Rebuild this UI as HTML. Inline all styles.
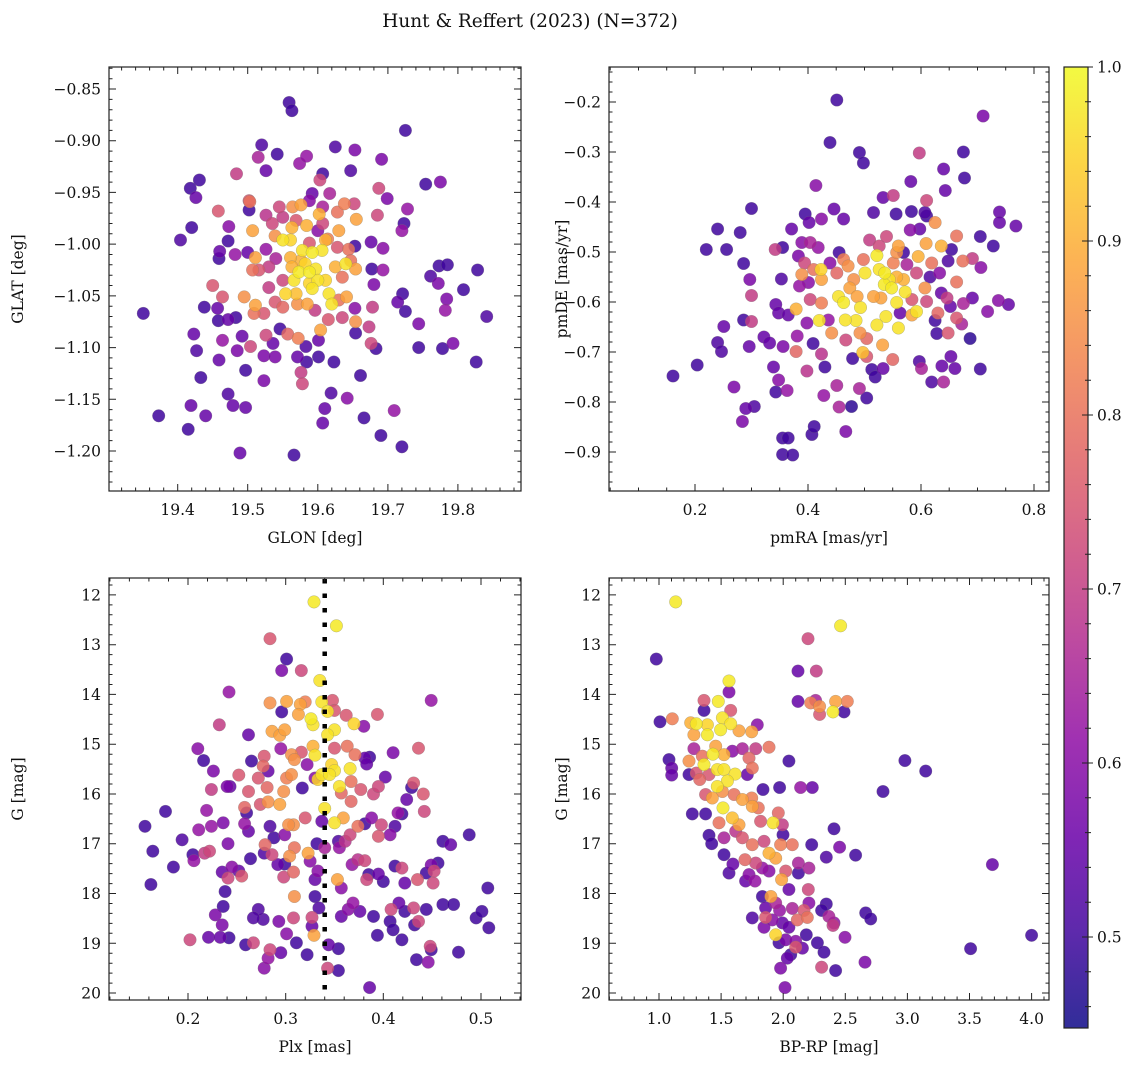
<!DOCTYPE html>
<html><head><meta charset="utf-8"><style>
html,body{margin:0;padding:0;background:#fff;}
svg{display:block;font-family:"DejaVu Serif","Liberation Serif",serif;}
</style></head><body>
<svg id="fig" xmlns="http://www.w3.org/2000/svg" width="1136" height="1067" viewBox="0 0 1136 1067">
<rect width="1136" height="1067" fill="#fff"/>
<text x="530" y="27" font-size="18.5" text-anchor="middle" fill="#111">Hunt &amp; Reffert (2023) (N=372)</text>
</svg>
<script>
// ---------- Panel 1: GLON vs GLAT ----------
const p1Glon=[19.559,19.563,19.725,19.520,19.542,19.625,19.653,19.515,19.574,19.584,19.691,19.484,19.526,19.647,19.431,19.418,19.426,19.754,19.775,19.607,19.603,19.687,19.699,19.458,19.502,19.502,19.728,19.723,19.420,19.404,19.473,19.472,19.720,19.685,19.676,19.693,19.460,19.459,19.482,19.500,19.653,19.773,19.785,19.828,19.761,19.772,19.677,19.693,19.680,19.450,19.464,19.438,19.351,19.457,19.458,19.472,19.483,19.721,19.714,19.725,19.784,19.782,19.808,19.841,19.744,19.546,19.653,19.654,19.673,19.678,19.423,19.427,19.464,19.485,19.492,19.504,19.526,19.536,19.523,19.539,19.571,19.583,19.601,19.601,19.584,19.623,19.676,19.683,19.744,19.778,19.793,19.826,19.459,19.497,19.433,19.523,19.576,19.578,19.661,19.472,19.479,19.497,19.419,19.373,19.415,19.440,19.619,19.610,19.607,19.642,19.666,19.709,19.690,19.720,19.489,19.566,
19.503,19.507,19.539,19.550,19.561,19.563,19.584,19.602,19.576,19.564,19.545,19.630,19.638,19.652,19.655,19.628,19.611,19.607,19.578,19.592,19.606,19.576,19.582,19.561,19.563,19.573,19.588,19.597,19.600,19.611,19.588,19.566,19.554,19.569,19.592,19.616,19.620,19.640,19.625,19.654,19.635,19.644,19.647,19.641,19.630,19.585,19.571,19.550,19.539,19.511,19.507,19.516,19.511,19.495,19.509,19.523,19.557,19.572,19.604,19.615,19.654,19.635,19.596,19.588,19.540,19.550,19.530,19.628,19.569,19.550,19.526,19.535,19.526,19.530,19.607,19.592,19.588,19.614,19.617,19.600];
const p1Glat=[-0.863,-0.871,-0.890,-0.904,-0.913,-0.906,-0.909,-0.916,-0.922,-0.915,-0.918,-0.932,-0.929,-0.929,-0.938,-0.946,-0.955,-0.942,-0.940,-0.932,-0.938,-0.946,-0.956,-0.968,-0.967,-0.958,-0.966,-0.980,-0.984,-0.996,-0.983,-0.997,-0.987,-0.972,-0.998,-1.004,-1.007,-1.014,-1.010,-1.008,-1.002,-1.021,-1.020,-1.025,-1.031,-1.038,-1.024,-1.025,-1.039,-1.040,-1.051,-1.061,-1.067,-1.062,-1.074,-1.073,-1.071,-1.048,-1.056,-1.065,-1.053,-1.064,-1.044,-1.070,-1.077,-1.082,-1.062,-1.086,-1.080,-1.061,-1.087,-1.103,-1.093,-1.103,-1.089,-1.099,-1.088,-1.096,-1.108,-1.109,-1.109,-1.099,-1.093,-1.109,-1.114,-1.114,-1.096,-1.101,-1.100,-1.101,-1.096,-1.114,-1.112,-1.122,-1.129,-1.132,-1.124,-1.135,-1.127,-1.145,-1.156,-1.158,-1.156,-1.166,-1.179,-1.166,-1.144,-1.159,-1.173,-1.149,-1.168,-1.161,-1.185,-1.196,-1.202,-1.204,
-0.959,-0.987,-0.992,-0.996,-0.996,-0.984,-0.982,-0.971,-0.962,-0.964,-0.964,-0.987,-0.961,-0.961,-0.976,-0.969,-0.996,-0.980,-1.006,-1.008,-1.006,-1.016,-1.019,-1.013,-1.022,-1.027,-1.027,-1.024,-1.035,-1.035,-1.038,-1.035,-1.048,-1.048,-1.043,-1.048,-1.058,-1.019,-1.022,-1.024,-1.032,-1.005,-1.016,-1.051,-1.054,-1.058,-1.058,-1.061,-1.056,-1.013,-1.025,-1.025,-1.059,-1.051,-1.067,-1.067,-1.087,-1.091,-1.083,-1.073,-1.075,-1.071,-1.064,-0.999,-1.014,-1.035,-1.042,-1.003,-0.977,-0.974,-0.972,-0.980,-1.005,-1.022,-0.964,-0.951,-0.958,-0.995,-0.951,-0.987];
const p1Prob=[.5,.5,.5,.52,.5,.52,.58,.65,.62,.62,.58,.7,.55,.52,.5,.5,.55,.5,.58,.5,.72,.72,.58,.75,.5,.75,.62,.5,.5,.52,.6,.5,.62,.72,.55,.6,.55,.5,.62,.55,.5,.5,.5,.5,.52,.58,.5,.62,.58,.75,.75,.5,.5,.55,.5,.55,.5,.5,.55,.5,.58,.62,.5,.52,.58,.5,.6,.5,.7,.7,.55,.52,.62,.58,.55,.72,.72,.55,.58,.58,.55,.52,.55,.5,.5,.5,.72,.5,.5,.5,.58,.5,.55,.5,.5,.58,.7,.72,.5,.52,.55,.55,.55,.5,.5,.55,.52,.55,.55,.6,.5,.62,.5,.5,.55,.5,
.8,.88,.85,.97,.95,.9,.9,.9,.88,.85,.72,.88,.82,.72,.88,.8,.9,.72,.97,.98,.97,.9,.95,.9,.9,.98,.98,.97,.97,.95,.95,.97,.95,.92,.97,.97,.97,.97,.9,.88,.8,.8,.8,.88,.8,.88,.85,.78,.75,.88,.8,.75,.88,.85,.8,.75,.78,.82,.88,.75,.85,.72,.7,.75,.65,.72,.7,.75,.75,.7,.68,.72,.62,.7,.65,.55,.6,.82,.65,.6];
const p1XTicks=[19.4,19.5,19.6,19.7,19.8];
const p1YTicks=[-0.85,-0.90,-0.95,-1.00,-1.05,-1.10,-1.15,-1.20];

// ---------- Panel 2: pmRA vs pmDE ----------
const p2Pmra=[0.451,0.710,0.439,0.491,0.498,0.597,0.675,0.677,0.640,0.643,0.582,0.414,0.533,0.551,0.610,0.300,0.395,0.402,0.424,0.446,0.463,0.516,0.556,0.583,0.610,0.739,0.739,0.768,0.728,0.705,0.240,0.280,0.220,0.256,0.371,0.342,0.355,0.286,0.297,0.300,0.353,0.343,0.348,0.365,0.300,0.286,0.251,0.240,0.247,0.296,0.322,0.332,0.204,0.161,0.269,0.339,0.348,0.343,0.363,0.290,0.305,0.284,0.355,0.365,0.355,0.373,0.407,0.411,0.467,0.477,0.455,0.428,0.451,0.491,0.504,0.513,0.519,0.533,0.398,0.430,0.424,0.479,0.497,0.550,0.597,0.601,0.619,0.640,0.637,0.653,0.660,0.705,0.687,0.672,0.718,0.737,0.755,0.691,0.675,0.652,0.636,0.625,0.628,0.648,0.663,0.616,0.648,0.654,0.663,0.674,0.706,0.691,0.636,0.609,0.595,0.625,0.619,0.663,0.607,0.592,0.584,0.569,0.572,0.557,0.560,0.538,0.522,0.535,0.548,0.526,0.536,0.522,0.557,0.560,0.557,0.544,0.501,0.493,0.485,0.466,0.463,0.454,0.474,0.487,0.481,0.471,0.423,0.420,0.424,0.379,0.389,0.410,0.424,0.442,0.492,0.532,0.504,0.529,0.516,0.551,0.463,0.451,0.498,0.394,0.404,0.385,0.383,0.389,0.404,0.418,0.439,0.455,0.509,0.526,0.539,0.569,0.581,0.598,0.607,0.575,0.592,0.584,0.610,0.630,0.646,0.633,0.563,0.436,0.398,0.401,0.409,0.381,0.379,0.356,0.504,0.467];
const p2Pmde=[-0.196,-0.228,-0.281,-0.301,-0.322,-0.302,-0.300,-0.352,-0.334,-0.377,-0.359,-0.367,-0.391,-0.387,-0.397,-0.413,-0.424,-0.441,-0.434,-0.414,-0.434,-0.421,-0.424,-0.419,-0.428,-0.420,-0.441,-0.448,-0.488,-0.469,-0.454,-0.461,-0.495,-0.495,-0.454,-0.495,-0.491,-0.523,-0.555,-0.587,-0.554,-0.605,-0.622,-0.626,-0.639,-0.636,-0.649,-0.681,-0.699,-0.689,-0.670,-0.682,-0.726,-0.748,-0.770,-0.730,-0.756,-0.780,-0.777,-0.813,-0.809,-0.839,-0.872,-0.872,-0.905,-0.906,-0.865,-0.849,-0.859,-0.809,-0.810,-0.787,-0.767,-0.773,-0.792,-0.735,-0.750,-0.733,-0.738,-0.730,-0.704,-0.713,-0.701,-0.715,-0.719,-0.733,-0.760,-0.760,-0.728,-0.709,-0.733,-0.734,-0.673,-0.644,-0.619,-0.597,-0.605,-0.592,-0.603,-0.609,-0.582,-0.637,-0.663,-0.662,-0.632,-0.550,-0.518,-0.495,-0.468,-0.518,-0.531,-0.513,-0.488,-0.483,-0.509,-0.441,-0.522,-0.560,-0.572,-0.619,-0.626,-0.555,-0.580,-0.601,-0.652,-0.629,-0.646,-0.565,-0.572,-0.535,-0.542,-0.507,-0.550,-0.488,-0.501,-0.555,-0.542,-0.611,-0.637,-0.636,-0.601,-0.589,-0.572,-0.589,-0.555,-0.528,-0.535,-0.637,-0.555,-0.614,-0.545,-0.535,-0.602,-0.662,-0.662,-0.686,-0.673,-0.592,-0.589,-0.522,-0.515,-0.542,-0.515,-0.522,-0.595,-0.568,-0.508,-0.481,-0.481,-0.491,-0.522,-0.501,-0.476,-0.488,-0.469,-0.501,-0.456,-0.454,-0.421,-0.525,-0.542,-0.595,-0.599,-0.622,-0.592,-0.542,-0.622,-0.636,-0.642,-0.561,-0.683,-0.668,-0.699,-0.689,-0.709,-0.676];
const p2Prob=[.5,.58,.5,.5,.5,.7,.5,.5,.55,.55,.55,.6,.55,.7,.72,.5,.5,.55,.6,.55,.55,.52,.5,.5,.5,.55,.55,.55,.5,.5,.5,.5,.5,.5,.55,.7,.5,.5,.58,.7,.52,.55,.55,.55,.7,.5,.55,.52,.52,.55,.55,.55,.5,.5,.58,.55,.6,.5,.62,.55,.52,.58,.5,.5,.5,.5,.5,.5,.58,.48,.65,.62,.65,.65,.5,.5,.5,.55,.68,.5,.68,.5,.92,.78,.52,.65,.52,.65,.55,.55,.55,.5,.48,.65,.6,.6,.55,.55,.65,.55,.55,.5,.5,.75,.75,.52,.52,.5,.8,.8,.6,.7,.9,.88,.9,.85,.8,.8,.85,.97,.88,.9,.97,.97,.97,.97,.97,.98,.98,.97,.98,.98,.9,.88,.85,.97,.97,.97,.97,.97,.98,.97,.88,.88,.85,.85,.95,.97,.88,.9,.85,.8,.82,.85,.85,.88,.78,.88,.88,.82,.82,.78,.8,.72,.72,.62,.58,.6,.65,.62,.6,.5,.7,.72,.72,.5,.6,.55,.52,.65,.72,.75,.72,.78,.7,.6,.55,.62,.6,.6,.5,.62,.78,.58,.75,.72];
const p2XTicks=[0.2,0.4,0.6,0.8];
const p2YTicks=[-0.2,-0.3,-0.4,-0.5,-0.6,-0.7,-0.8,-0.9];

// ---------- Panel 3: Plx vs G ----------
const p3Plx=[0.329,0.352,0.284,0.301,0.296,0.316,0.335,0.242,0.449,0.284,0.301,0.315,0.320,0.337,0.348,0.296,0.313,0.326,0.328,0.343,0.350,0.362,0.394,0.370,0.380,0.350,0.232,0.262,0.286,0.294,0.299,0.343,0.210,0.216,0.226,0.224,0.240,0.243,0.252,0.265,0.262,0.272,0.278,0.277,0.282,0.281,0.295,0.306,0.309,0.316,0.306,0.301,0.298,0.294,0.282,0.274,0.258,0.260,0.322,0.317,0.330,0.328,0.337,0.333,0.330,0.347,0.350,0.345,0.355,0.366,0.363,0.371,0.350,0.340,0.350,0.359,0.367,0.367,0.357,0.377,0.381,0.386,0.383,0.390,0.395,0.402,0.410,0.431,0.429,0.441,0.442,0.436,0.424,0.415,0.419,0.412,0.407,0.395,0.398,0.388,0.381,0.374,0.366,0.361,0.354,0.355,0.332,0.340,0.337,0.320,0.308,0.303,0.299,0.309,0.304,0.288,0.284,0.279,0.278,0.286,0.292,0.299,0.298,0.308,0.323,0.325,0.333,0.330,0.353,0.357,0.368,0.374,0.381,0.385,0.395,0.400,0.383,0.412,0.419,0.422,0.435,0.444,0.449,0.452,0.456,0.451,0.461,0.469,0.488,0.507,0.277,0.272,0.267,0.293,0.301,0.311,0.308,0.309,0.327,0.330,0.327,0.329,0.334,0.344,0.354,0.343,0.354,0.386,0.357,0.364,0.369,0.376,0.390,0.394,0.407,0.410,0.408,0.416,0.422,0.431,0.436,0.444,0.432,0.419,0.434,0.446,0.448,0.449,0.461,0.472,0.477,0.495,0.501,0.508,0.228,0.235,0.236,0.238,0.221,0.233,0.242,0.202,0.259,0.267,0.284,0.295,0.282,0.278,0.322,0.156,0.177,0.164,0.162,0.185,0.194,0.205,0.206,0.211,0.219,0.224,0.217,0.222,0.236,0.241,0.235,0.245,0.252,0.241,0.255,0.264,0.258,0.262];
const p3G=[12.14,12.62,12.88,13.29,13.52,13.52,13.72,13.95,14.12,14.17,14.14,14.20,14.15,14.15,14.12,14.35,14.40,14.49,14.61,14.34,14.32,14.42,14.40,14.59,14.64,14.71,14.61,14.81,14.74,14.82,14.71,14.81,15.09,15.33,15.54,15.91,15.85,15.85,15.62,15.34,15.95,15.68,15.24,15.44,15.54,15.87,15.09,15.21,15.31,15.16,15.61,15.68,15.95,16.21,16.16,16.21,16.27,16.38,15.41,15.88,15.22,15.04,15.61,15.71,15.68,15.41,15.53,15.61,15.85,15.49,15.04,15.21,15.08,16.29,16.58,16.48,16.15,15.75,15.98,15.91,15.28,15.26,15.40,16.00,15.85,15.66,15.17,15.78,15.87,16.00,16.35,15.08,16.11,16.38,16.40,16.65,16.82,16.85,16.62,16.48,16.60,16.65,16.82,16.95,16.95,17.08,17.00,17.08,16.55,16.48,16.62,16.62,16.82,17.08,17.25,16.88,16.65,17.02,17.19,17.22,17.42,17.41,17.67,17.57,17.19,17.35,17.55,17.72,17.72,17.89,17.42,17.32,17.34,17.62,17.61,17.76,17.72,17.45,17.49,17.79,17.72,17.59,17.43,17.55,17.39,17.79,16.95,17.02,16.82,17.89,18.52,18.32,18.49,18.56,18.81,18.99,18.49,18.06,18.48,18.06,18.66,18.84,18.29,19.03,19.11,19.50,19.55,19.89,18.46,18.32,18.19,18.36,18.46,18.84,18.56,18.73,18.32,18.19,18.36,18.29,18.56,18.32,18.63,18.93,19.33,19.38,19.06,19.13,18.22,18.22,19.18,18.49,18.36,18.69,18.43,18.63,18.26,17.96,18.88,18.88,18.89,18.93,19.03,18.99,19.13,19.19,19.30,19.50,19.23,16.65,16.35,17.15,17.82,17.47,16.92,17.22,17.34,16.72,16.33,16.65,17.19,17.15,16.58,17.00,17.57,17.47,17.55,17.69,17.65,17.30,16.60,16.75];
const p3Prob=[.98,.98,.75,.5,.58,.72,.97,.62,.62,.85,.88,.88,.82,.97,.75,.5,.88,.98,.97,.97,.75,.75,.75,.95,.6,.97,.7,.55,.88,.88,.88,.97,.6,.5,.58,.7,.58,.55,.75,.5,.75,.75,.75,.78,.55,.78,.62,.85,.85,.75,.85,.82,.85,.88,.85,.75,.78,.5,.6,.5,.97,.9,.97,.95,.6,.95,.97,.97,.97,.97,.8,.8,.75,.97,.97,.88,.78,.8,.78,.75,.55,.5,.55,.72,.72,.55,.58,.75,.5,.75,.72,.75,.55,.62,.5,.52,.6,.75,.72,.6,.5,.8,.72,.68,.52,.62,.5,.65,.55,.75,.85,.85,.6,.8,.85,.5,.52,.78,.52,.72,.55,.5,.72,.78,.88,.6,.6,.55,.88,.6,.62,.68,.72,.5,.55,.5,.72,.5,.72,.55,.75,.5,.58,.72,.5,.72,.5,.55,.5,.5,.52,.52,.52,.58,.6,.5,.72,.85,.72,.5,.55,.88,.52,.55,.5,.72,.5,.55,.55,.6,.62,.55,.5,.5,.5,.5,.72,.55,.5,.72,.72,.5,.5,.5,.5,.6,.72,.5,.5,.5,.5,.5,.5,.5,.58,.58,.5,.5,.55,.55,.5,.72,.5,.72,.72,.55,.62,.6,.5,.5,.5,.5,.5,.5,.52,.5,.62,.62,.62,.62,.7,.72,.58,.58,.55,.6,.55,.72,.75,.5,.62,.55,.6,.72,.62,.58];
const p3XTicks=[0.2,0.3,0.4,0.5];
const p3YTicks=[12,13,14,15,16,17,18,19,20];
const p3PlxRef=[0.34];

// ---------- Panel 4: BP-RP vs G ----------
const p4Color=[1.134,2.462,2.199,0.978,2.119,2.266,1.563,1.563,1.362,1.362,1.477,1.577,2.119,2.261,2.221,2.293,2.293,2.422,2.516,2.401,2.489,1.008,1.107,1.255,1.300,1.389,1.510,1.577,1.496,1.791,1.644,1.746,1.281,1.389,1.885,1.281,1.456,1.434,1.523,1.590,1.671,1.778,1.080,1.102,1.102,1.241,1.349,1.362,1.241,1.300,1.469,1.523,1.612,1.550,1.469,1.402,1.327,1.724,1.751,1.711,2.046,2.140,2.234,1.971,1.837,2.980,3.147,2.803,1.375,1.429,1.510,1.604,1.671,1.746,1.751,1.799,1.515,1.590,1.644,1.483,1.268,1.375,1.918,1.960,1.993,1.998,1.818,2.409,1.402,1.424,1.523,1.617,1.671,1.751,1.845,1.885,1.939,1.979,2.073,2.229,2.454,2.347,2.583,3.684,1.523,1.563,1.595,1.692,1.778,1.832,1.724,1.773,1.697,1.885,1.987,2.020,2.122,2.207,2.122,2.046,2.202,1.901,1.832,1.858,1.939,1.971,2.073,2.167,2.207,2.347,2.309,2.368,2.409,2.401,2.664,2.704,1.751,1.858,1.845,1.912,1.993,2.046,2.113,2.194,2.186,1.939,1.966,2.020,2.100,2.154,2.275,2.328,2.060,2.100,2.033,1.979,2.014,2.309,2.422,2.658,2.497,3.509,4.000];
const p4G=[12.14,12.62,12.88,13.29,13.53,13.53,13.73,13.95,14.12,14.32,14.14,14.32,14.14,14.12,14.17,14.24,14.40,14.14,14.14,14.35,14.35,14.55,14.49,14.57,14.59,14.61,14.47,14.59,14.71,14.61,14.73,14.75,14.81,14.81,15.06,15.09,15.04,15.20,15.21,15.14,15.09,15.09,15.31,15.48,15.62,15.34,15.24,15.41,15.61,15.58,15.51,15.51,15.60,15.74,15.85,15.61,15.71,15.28,15.48,15.61,15.34,15.87,15.87,15.87,15.91,15.33,15.54,15.95,16.01,16.08,15.95,16.01,16.11,16.08,16.25,16.28,16.28,16.48,16.62,16.58,16.40,16.40,16.58,16.38,16.62,16.82,16.55,16.70,16.83,17.00,16.88,16.75,16.88,17.02,16.95,17.19,17.29,17.02,17.02,17.02,17.07,17.27,17.23,17.42,17.22,17.59,17.41,17.32,17.39,17.49,17.62,17.75,17.75,17.55,17.72,17.55,17.39,17.49,17.59,17.92,17.92,18.06,18.06,18.29,18.19,18.34,18.30,18.34,18.19,18.21,18.34,18.46,18.59,18.64,18.39,18.51,18.49,18.48,18.68,18.53,18.59,18.68,18.53,18.48,18.83,18.83,18.99,18.93,18.96,19.10,18.99,19.18,19.23,19.08,19.30,19.50,19.89,19.48,19.55,19.38,18.88,19.11,18.84];
const p4Prob=[.98,.98,.72,.5,.55,.7,.98,.58,.75,.5,.98,.75,.55,.65,.82,.85,.75,.88,.82,.98,.5,.5,.82,.9,.98,.95,.97,.97,.98,.6,.88,.88,.88,.98,.8,.65,.88,.98,.9,.6,.65,.7,.5,.55,.55,.85,.8,.98,.5,.75,.97,.97,.97,.97,.97,.75,.78,.78,.8,.55,.5,.62,.55,.5,.5,.5,.5,.5,.75,.88,.85,.8,.88,.82,.88,.8,.98,.92,.88,.8,.5,.5,.97,.78,.7,.5,.75,.5,.5,.5,.65,.68,.75,.8,.72,.9,.88,.82,.8,.5,.58,.52,.5,.55,.5,.52,.55,.78,.72,.62,.6,.62,.55,.6,.88,.75,.65,.65,.5,.55,.72,.88,.5,.55,.65,.62,.65,.75,.6,.5,.5,.65,.62,.7,.5,.5,.52,.75,.58,.6,.55,.55,.78,.8,.5,.95,.5,.58,.6,.55,.5,.5,.5,.75,.55,.58,.58,.72,.5,.58,.6,.5,.5];
const p4XTicks=[1.0,1.5,2.0,2.5,3.0,3.5,4.0];
const p4YTicks=[12,13,14,15,16,17,18,19,20];

// ---------- Colorbar ----------
const cbTicks=[0.5,0.6,0.7,0.8,0.9,1.0];
const cbMin=0.4477, cbMax=1.0;

const NS="http://www.w3.org/2000/svg";
const svg=document.getElementById('fig');
const plasmaStops=["#0d0887","#41049d","#6a00a8","#8f0da4","#b12a90","#cc4778","#e16462","#f2844b","#fca636","#fcce25","#f0f921"];
function hex2rgb(h){return [parseInt(h.substr(1,2),16),parseInt(h.substr(3,2),16),parseInt(h.substr(5,2),16)];}
function plasma(t){if(!isFinite(t))t=0;t=Math.max(0,Math.min(1,t));const s=t*10;const i=Math.min(9,Math.floor(s));const f=s-i;const a=hex2rgb(plasmaStops[i]),b=hex2rgb(plasmaStops[i+1]);return 'rgb('+a.map((v,k)=>Math.round(v+(b[k]-v)*f)).join(',')+')';}
function el(tag,parent){const e=document.createElementNS(NS,tag);parent.appendChild(e);return e;}
function fmt(v,d){const s=Math.abs(v).toFixed(d);return (v<-1e-9?'\u2212':'')+s;}

function drawPanel(c){
  const g=el('g',svg);
  
  
  const sx=v=>c.x0+(v-c.xmin)/(c.xmax-c.xmin)*(c.x1-c.x0);
  const sy=v=>c.y0+(v-c.yTop)/(c.yBot-c.yTop)*(c.y1-c.y0);
  const n=Math.min(c.px.length,c.py.length,c.pc.length);
  const idx=[];for(let i=0;i<n;i++)idx.push(i);
  idx.sort((a,b)=>c.pc[a]-c.pc[b]);
  const pg=el('g',g);
  
  
  idx.forEach(i=>{
    const p=el('circle',pg);
    
    
    p.setAttribute('cx',sx(c.px[i]).toFixed(1));
    p.setAttribute('cy',sy(c.py[i]).toFixed(1));
    p.setAttribute('r','6.3');
    p.setAttribute('fill',plasma((c.pc[i]-cbMin)/(cbMax-cbMin)));
    p.setAttribute('fill-opacity','0.85');
    p.setAttribute('stroke','#777');
    p.setAttribute('stroke-opacity','0.5');
    p.setAttribute('stroke-width','0.5');
  });
  if(c.vline){
    c.vline.forEach(v=>{
      const l=el('line',g);
      
      
      l.setAttribute('x1',sx(v));l.setAttribute('x2',sx(v));
      l.setAttribute('y1',c.y0+1);l.setAttribute('y2',c.y1);
      l.setAttribute('stroke','#000');l.setAttribute('stroke-width','4.5');
      l.setAttribute('stroke-dasharray','4.5 10');
    });
  }
  const fr=el('rect',g);
  
  
  fr.setAttribute('x',c.x0);fr.setAttribute('y',c.y0);
  fr.setAttribute('width',c.x1-c.x0);fr.setAttribute('height',c.y1-c.y0);
  fr.setAttribute('fill','none');fr.setAttribute('stroke','#222');fr.setAttribute('stroke-width','1.2');
  const tk=el('path',g);
  
  
  let d='';
  const isMajor=(v,arr)=>arr.some(m=>Math.abs(m-v)<1e-6);
  for(let k=Math.ceil(c.xmin/c.xminor-1e-9);k*c.xminor<=c.xmax+1e-9;k++){
    const v=k*c.xminor;const X=sx(v).toFixed(1);const L=isMajor(v,c.xt)?7:3.5;
    d+=`M${X},${c.y1}v${-L}M${X},${c.y0}v${L}`;
  }
  for(let k=Math.ceil(Math.min(c.yTop,c.yBot)/c.yminor-1e-9);k*c.yminor<=Math.max(c.yTop,c.yBot)+1e-9;k++){
    const v=k*c.yminor;const Y=sy(v).toFixed(1);const L=isMajor(v,c.yt)?7:3.5;
    d+=`M${c.x0},${Y}h${L}M${c.x1},${Y}h${-L}`;
  }
  tk.setAttribute('d',d);tk.setAttribute('stroke','#222');tk.setAttribute('stroke-width','1');tk.setAttribute('fill','none');
  c.xt.forEach(v=>{
    const t=el('text',g);
    
    
    t.setAttribute('x',sx(v));t.setAttribute('y',c.y1+24);
    t.setAttribute('font-size','15.5');t.setAttribute('text-anchor','middle');t.setAttribute('fill','#111');
    t.textContent=fmt(v,c.xd);
  });
  c.yt.forEach(v=>{
    const t=el('text',g);
    
    
    t.setAttribute('x',c.x0-8);t.setAttribute('y',sy(v)+5.5);
    t.setAttribute('font-size','15.5');t.setAttribute('text-anchor','end');t.setAttribute('fill','#111');
    t.textContent=fmt(v,c.yd);
  });
  const xl=el('text',g);
  
  
  xl.setAttribute('x',(c.x0+c.x1)/2);xl.setAttribute('y',c.y1+52);
  xl.setAttribute('font-size','15.5');xl.setAttribute('text-anchor','middle');xl.setAttribute('fill','#111');
  xl.textContent=c.xlabel;
  const yl=el('text',g);
  
  
  const cy=(c.y0+c.y1)/2;
  yl.setAttribute('x',c.ylx);yl.setAttribute('y',cy);
  yl.setAttribute('transform',`rotate(-90 ${c.ylx} ${cy})`);
  yl.setAttribute('font-size','15.5');yl.setAttribute('text-anchor','middle');yl.setAttribute('fill','#111');
  yl.textContent=c.ylabel;
}

drawPanel({name:'panel-glon-glat',x0:109,x1:521,y0:67,y1:491,xmin:19.302,xmax:19.890,yTop:-0.8287,yBot:-1.2387,
  px:p1Glon,py:p1Glat,pc:p1Prob,xt:p1XTicks,yt:p1YTicks,xminor:0.02,yminor:0.01,xd:1,yd:2,xlabel:'GLON [deg]',ylabel:'GLAT [deg]',ylx:23});
drawPanel({name:'panel-pmra-pmde',x0:609,x1:1049,y0:67,y1:491,xmin:0.0478,xmax:0.8266,yTop:-0.13,yBot:-0.978,
  px:p2Pmra,py:p2Pmde,pc:p2Prob,xt:p2XTicks,yt:p2YTicks,xminor:0.05,yminor:0.02,xd:1,yd:1,xlabel:'pmRA [mas/yr]',ylabel:'pmDE [mas/yr]',ylx:567});
drawPanel({name:'panel-plx-g',x0:109,x1:521,y0:578,y1:1000,xmin:0.1191,xmax:0.541,yTop:11.66,yBot:20.14,
  px:p3Plx,py:p3G,pc:p3Prob,xt:p3XTicks,yt:p3YTicks,xminor:0.02,yminor:0.2,xd:1,yd:0,xlabel:'Plx [mas]',ylabel:'G [mag]',ylx:23,vline:p3PlxRef});
drawPanel({name:'panel-bprp-g',x0:609,x1:1049,y0:578,y1:1000,xmin:0.597,xmax:4.14,yTop:11.66,yBot:20.14,
  px:p4Color,py:p4G,pc:p4Prob,xt:p4XTicks,yt:p4YTicks,xminor:0.1,yminor:0.2,xd:1,yd:0,xlabel:'BP-RP [mag]',ylabel:'G [mag]',ylx:567});

(function(){
  const x0=1064,x1=1088,y0=67,y1=1028;
  const g=el('g',svg);
  
  
  const defs=el('defs',g);
  const lg=el('linearGradient',defs);
  lg.setAttribute('id','cbgrad');lg.setAttribute('x1','0');lg.setAttribute('y1','1');lg.setAttribute('x2','0');lg.setAttribute('y2','0');
  for(let i=0;i<=20;i++){const s=el('stop',lg);s.setAttribute('offset',i/20);s.setAttribute('stop-color',plasma(i/20));s.setAttribute('stop-opacity','0.85');}
  const r=el('rect',g);
  
  
  r.setAttribute('x',x0);r.setAttribute('y',y0);r.setAttribute('width',x1-x0);r.setAttribute('height',y1-y0);
  r.setAttribute('fill','url(#cbgrad)');r.setAttribute('stroke','#222');r.setAttribute('stroke-width','1.2');
  const sy=v=>y1-(v-cbMin)/(cbMax-cbMin)*(y1-y0);
  let d='';
  for(let k=Math.ceil(cbMin/0.02-1e-9);k*0.02<=cbMax+1e-9;k++){
    const v=k*0.02;const Y=sy(v).toFixed(1);const maj=cbTicks.some(m=>Math.abs(m-v)<1e-6);
    d+=`M${x1},${Y}h${maj?-6:-3}M${x1},${Y}h${maj?5:3}`;
  }
  const tk=el('path',g);
  
  
  tk.setAttribute('d',d);tk.setAttribute('stroke','#222');tk.setAttribute('stroke-width','1');
  cbTicks.forEach(v=>{
    const t=el('text',g);
    
    
    t.setAttribute('x',x1+9);t.setAttribute('y',sy(v)+5.5);
    t.setAttribute('font-size','15.5');t.setAttribute('fill','#111');
    t.textContent=v.toFixed(1);
  });
})();
</script>
</body></html>
